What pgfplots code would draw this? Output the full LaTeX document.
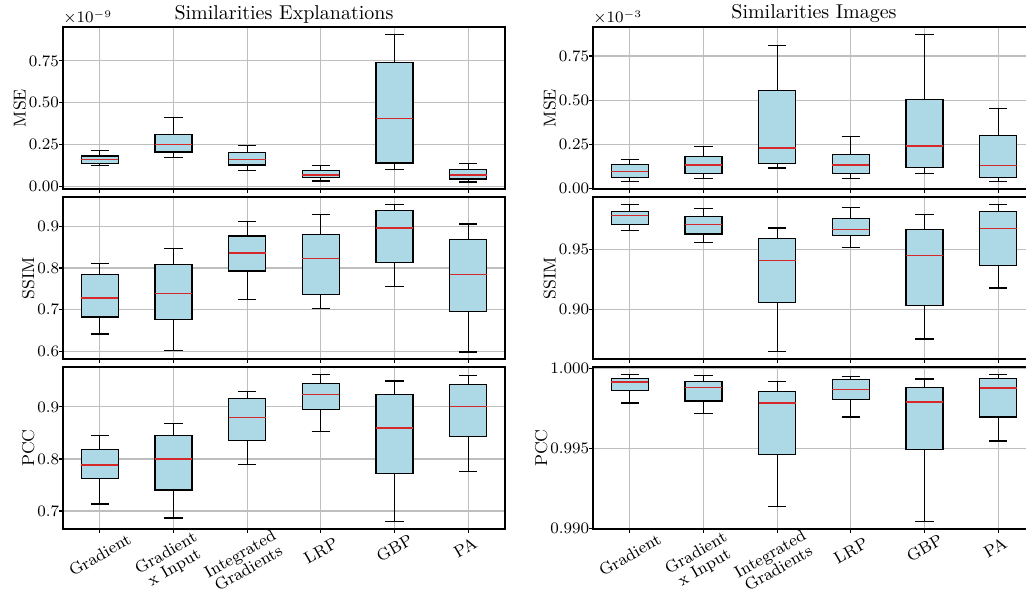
\documentclass[border=0pt]{standalone}
\usepackage{pgfplots}
\pgfplotsset{compat=1.18}
\usepgfplotslibrary{statistics}

\definecolor{boxblue}{RGB}{173,216,230}
\definecolor{medred}{RGB}{214,40,40}
\definecolor{gridgray}{RGB}{190,190,190}

\pgfplotsset{
  panel/.style={
    scale only axis, width=221pt, height=81pt,
    anchor=north west, clip=false,
    xmin=0.5, xmax=6.5, xtick={1,...,6}, xticklabels={},
    scaled y ticks=false,
    grid=major, major grid style={draw=gridgray, line width=0.6pt},
    tick align=outside, major tick length=2pt, tick pos=left,
    axis line style={black, line width=0.7pt},
    tick style={black, line width=0.6pt},
    yticklabel style={font=\fontsize{8.5}{9}\selectfont, inner xsep=0.8pt},
    yticklabel shift=-1pt,
    ylabel style={font=\fontsize{8.6}{9}\selectfont},
    ylabel shift=-3pt,
    title style={font=\fontsize{10}{11}\selectfont, yshift=-7.5pt},
  },
  prec/.style={yticklabel style={/pgf/number format/.cd, fixed, fixed zerofill, precision=#1}},
  boxp/.style={draw=black, fill=boxblue, line width=0.6pt,
    boxplot/draw direction=y,
    boxplot/box extend=0.5, boxplot/whisker extend=0.25,
    boxplot/every median/.style={draw=medred, line width=0.7pt}},
}
\tikzset{catlab/.style={font=\fontsize{8.3}{8.3}\selectfont, rotate=30, align=center, anchor=center, inner sep=0pt}}

% draw position, lower whisker, lower quartile, median, upper quartile, upper whisker
\newcommand{\bx}[6]{\addplot[boxp, boxplot prepared={draw position=#1,
  lower whisker=#2, lower quartile=#3, median=#4, upper quartile=#5, upper whisker=#6}] coordinates {};}

% category labels under the bottom row (shift first, then rotate)
\newcommand{\catlabels}{
  \node[yshift=-13pt, catlab] at (rel axis cs:0.0833,0) {Gradient};
  \node[yshift=-16pt, xshift=-1.5pt, catlab] at (rel axis cs:0.25,0) {Gradient\\x Input};
  \node[yshift=-16pt, xshift=-1.5pt, catlab] at (rel axis cs:0.4167,0) {Integrated\\Gradients};
  \node[yshift=-11pt, catlab] at (rel axis cs:0.5833,0) {LRP};
  \node[yshift=-9.5pt, catlab] at (rel axis cs:0.75,0) {GBP};
  \node[yshift=-9.3pt, xshift=-1.5pt, catlab] at (rel axis cs:0.9167,0) {PA};
}

\begin{document}
\begin{tikzpicture}

% ---------- Similarities Explanations ----------
\begin{axis}[panel, prec=2, at={(31.5pt,-13.5pt)},
    title={Similarities Explanations}, ylabel={MSE},
    ymin=-0.014, ymax=0.952, ytick={0,0.25,0.5,0.75}]
\bx{1}{0.124}{0.137}{0.161}{0.183}{0.217}
\bx{2}{0.173}{0.207}{0.253}{0.313}{0.412}
\bx{3}{0.098}{0.129}{0.163}{0.205}{0.247}
\bx{4}{0.034}{0.056}{0.070}{0.094}{0.127}
\bx{5}{0.104}{0.141}{0.406}{0.739}{0.908}
\bx{6}{0.028}{0.046}{0.070}{0.104}{0.137}
\node[anchor=south west, inner sep=0pt, yshift=1pt, font=\fontsize{7.8}{8}\selectfont]
  at (rel axis cs:0,1) {$\times10^{-9}$};
\end{axis}

\begin{axis}[panel, prec=1, at={(31.5pt,-98.5pt)}, ylabel={SSIM},
    ymin=0.581, ymax=0.971, ytick={0.6,0.7,0.8,0.9}]
\bx{1}{0.641}{0.682}{0.7275}{0.784}{0.810}
\bx{2}{0.602}{0.676}{0.739}{0.808}{0.847}
\bx{3}{0.7235}{0.793}{0.836}{0.877}{0.913}
\bx{4}{0.702}{0.737}{0.823}{0.880}{0.929}
\bx{5}{0.756}{0.8125}{0.896}{0.938}{0.953}
\bx{6}{0.598}{0.696}{0.784}{0.868}{0.906}
\end{axis}

\begin{axis}[panel, prec=1, at={(31.5pt,-183.5pt)}, ylabel={PCC},
    ymin=0.6655, ymax=0.9765, ytick={0.7,0.8,0.9}]
\bx{1}{0.7134}{0.7626}{0.7882}{0.8188}{0.8457}
\bx{2}{0.6866}{0.7403}{0.8003}{0.8444}{0.8687}
\bx{3}{0.7895}{0.8361}{0.8796}{0.9153}{0.9288}
\bx{4}{0.8527}{0.8955}{0.9243}{0.9447}{0.962}
\bx{5}{0.6796}{0.7728}{0.8591}{0.9243}{0.9498}
\bx{6}{0.776}{0.8438}{0.9006}{0.9428}{0.960}
\catlabels
\end{axis}

% ---------- Similarities Images ----------
\begin{axis}[panel, prec=2, at={(296.5pt,-13.5pt)},
    title={Similarities Images}, ylabel={MSE},
    ymin=-0.0015, ymax=0.9135, ytick={0,0.25,0.5,0.75}]
\bx{1}{0.041}{0.064}{0.098}{0.137}{0.167}
\bx{2}{0.060}{0.085}{0.135}{0.180}{0.239}
\bx{3}{0.117}{0.141}{0.231}{0.555}{0.808}
\bx{4}{0.060}{0.086}{0.135}{0.192}{0.293}
\bx{5}{0.088}{0.122}{0.242}{0.506}{0.872}
\bx{6}{0.043}{0.064}{0.132}{0.299}{0.453}
\node[anchor=south west, inner sep=0pt, yshift=1pt, font=\fontsize{7.8}{8}\selectfont]
  at (rel axis cs:0,1) {$\times10^{-3}$};
\end{axis}

\begin{axis}[panel, prec=2, at={(296.5pt,-98.5pt)}, ylabel={SSIM},
    ymin=0.8589, ymax=0.9936, ytick={0.9,0.95}]
\bx{1}{0.9656}{0.9706}{0.9781}{0.9814}{0.9872}
\bx{2}{0.9556}{0.9628}{0.9706}{0.9772}{0.9839}
\bx{3}{0.865}{0.9058}{0.9406}{0.9592}{0.9678}
\bx{4}{0.9514}{0.9617}{0.9664}{0.9758}{0.9847}
\bx{5}{0.8756}{0.9036}{0.945}{0.9667}{0.9789}
\bx{6}{0.918}{0.9364}{0.9675}{0.9814}{0.9875}
\end{axis}

\begin{axis}[panel, prec=3, at={(296.5pt,-183.5pt)}, ylabel={PCC},
    ymin=0.98995, ymax=1.0001, ytick={0.990,0.995,1.000}]
\bx{1}{0.99785}{0.99862}{0.99916}{0.99939}{0.99964}
\bx{2}{0.99718}{0.99797}{0.99883}{0.99918}{0.99956}
\bx{3}{0.99138}{0.99462}{0.99785}{0.99858}{0.9992}
\bx{4}{0.99697}{0.99808}{0.99868}{0.99931}{0.9995}
\bx{5}{0.9904}{0.99492}{0.99791}{0.99883}{0.99935}
\bx{6}{0.99546}{0.99697}{0.99879}{0.99937}{0.99964}
\catlabels
\end{axis}

\pgfresetboundingbox
\path (0pt,0pt) rectangle (513pt,-298pt);
\end{tikzpicture}
\end{document}
